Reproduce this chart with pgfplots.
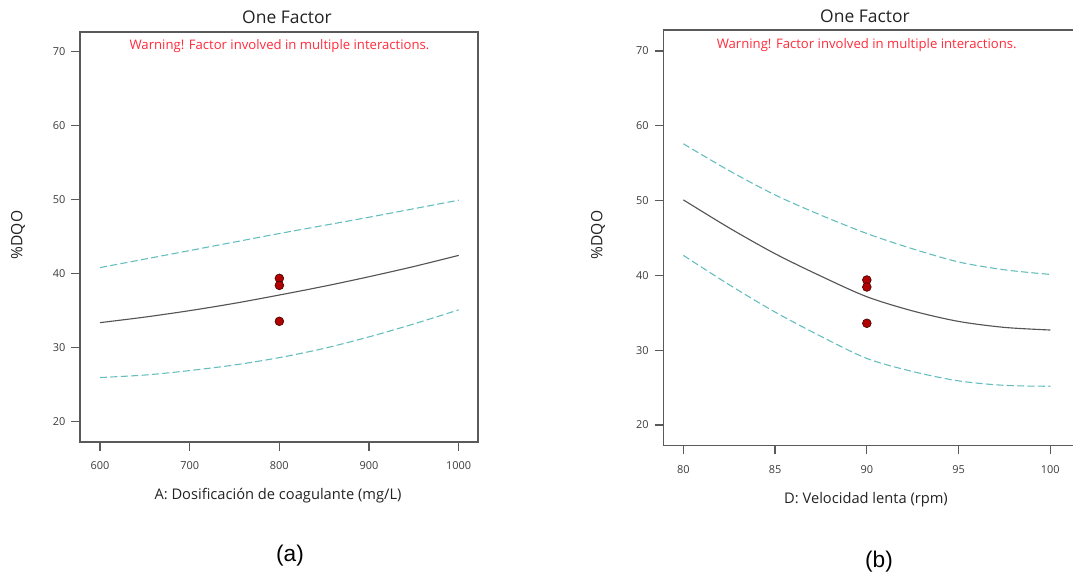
\documentclass[border=0pt]{standalone}
\usepackage{pgfplots}
\pgfplotsset{compat=1.18}
\usepackage{fontspec}
\setmainfont{Open Sans}
\newfontfamily\capfont{Liberation Sans}
\definecolor{axgray}{HTML}{5A5A5A}
\definecolor{ticktext}{HTML}{3C3C3C}
\definecolor{cil}{HTML}{62BDBD}
\definecolor{meanc}{HTML}{555555}
\definecolor{ptred}{HTML}{B00000}
\definecolor{warnred}{HTML}{FF2A3A}
\definecolor{titlec}{HTML}{222222}
\pgfplotsset{
  dqo/.style={
    scale only axis,
    tick align=outside, xtick pos=bottom, ytick pos=left,
    major tick length=6.5pt,
    axis line style={axgray, line width=1pt},
    every tick/.style={axgray, line width=0.9pt},
    tick label style={font=\fontsize{8.2}{9}\selectfont, text=ticktext},
    /pgf/number format/assume math mode=true,
    /pgf/number format/1000 sep={},
    xticklabel style={yshift=-4.5pt},
    yticklabel style={xshift=-1pt},
    ytick={20,30,...,70},
  },
  meanline/.style={meanc, line width=0.85pt, smooth},
  ciline/.style={cil, line width=0.8pt, dash pattern=on 5.3pt off 2.5pt, smooth},
  pts/.style={only marks, mark=*, mark size=3.3pt, mark options={fill=ptred, draw=black!70!ptred, line width=0.4pt}},
}
\begin{document}
\begin{tikzpicture}
\begin{axis}[dqo,
  at={(60pt,102pt)}, anchor=south west, width=298.5pt, height=307.5pt,
  xmin=577.7, xmax=1021.5, ymin=17.26, ymax=72.6,
  xtick={600,700,...,1000}]
\addplot[ciline] coordinates {(600,40.8) (650,41.95) (700,43.1) (750,44.25) (800,45.4) (850,46.5) (900,47.6) (950,48.75) (1000,49.9)};
\addplot[ciline] coordinates {(600,25.96) (650,26.3) (700,26.9) (750,27.66) (800,28.65) (850,29.9) (900,31.45) (950,33.2) (1000,35.1)};
\addplot[meanline] coordinates {(600,33.37) (650,34.12) (700,34.99) (750,35.98) (800,37.1) (850,38.28) (900,39.57) (950,40.95) (1000,42.45)};
\addplot[pts] coordinates {(800,39.35) (800,38.4) (800,33.55)};
\end{axis}
\begin{axis}[dqo,
  at={(497.5pt,99.2pt)}, anchor=south west, width=309.5pt, height=311.8pt,
  xmin=78.91, xmax=101.4, ymin=17.23, ymax=72.81,
  xtick={80,85,...,100}]
\addplot[ciline] coordinates {(80,57.6) (82.5,54.0) (85,50.76) (87.5,48.05) (90,45.6) (92.5,43.55) (95,41.8) (97.5,40.75) (100,40.13)};
\addplot[ciline] coordinates {(80,42.68) (82.5,38.75) (85,35.1) (87.5,31.85) (90,28.9) (92.5,27.15) (95,25.9) (97.5,25.3) (100,25.18)};
\addplot[meanline] coordinates {(80,50.1) (82.5,46.35) (85,42.9) (87.5,39.9) (90,37.15) (92.5,35.25) (95,33.85) (97.5,33.05) (100,32.7)};
\addplot[pts] coordinates {(90,39.39) (90,38.45) (90,33.6)};
\end{axis}
% texts
\node[text=titlec, font=\fontsize{13.1}{15}\selectfont] at (215.25pt,420.75pt) {One Factor};
\node[text=warnred, font=\fontsize{9.85}{11}\selectfont] at (209.6pt,399pt) {Warning! Factor involved in multiple interactions.};
\node[text=titlec, font=\fontsize{11}{12}\selectfont] at (208.5pt,61.5pt) {A: Dosificación de coagulante (mg/L)};
\node[text=titlec, font=\fontsize{11.7}{13}\selectfont, rotate=90] at (13.5pt,257.25pt) {\%DQO};
\node[text=black, font=\capfont\fontsize{17}{19}\selectfont] at (217.5pt,16.5pt) {(a)};
\node[text=titlec, font=\fontsize{13.1}{15}\selectfont] at (648.75pt,421.5pt) {One Factor};
\node[text=warnred, font=\fontsize{9.85}{11}\selectfont] at (650pt,399.75pt) {Warning! Factor involved in multiple interactions.};
\node[text=titlec, font=\fontsize{11}{12}\selectfont] at (649.5pt,58.5pt) {D: Velocidad lenta (rpm)};
\node[text=titlec, font=\fontsize{11.7}{13}\selectfont, rotate=90] at (448.5pt,257.25pt) {\%DQO};
\node[text=black, font=\capfont\fontsize{17}{19}\selectfont] at (659.25pt,12pt) {(b)};
\pgfresetboundingbox
\useasboundingbox (0,0) rectangle (804.75pt,433.5pt);
\end{tikzpicture}
\end{document}
